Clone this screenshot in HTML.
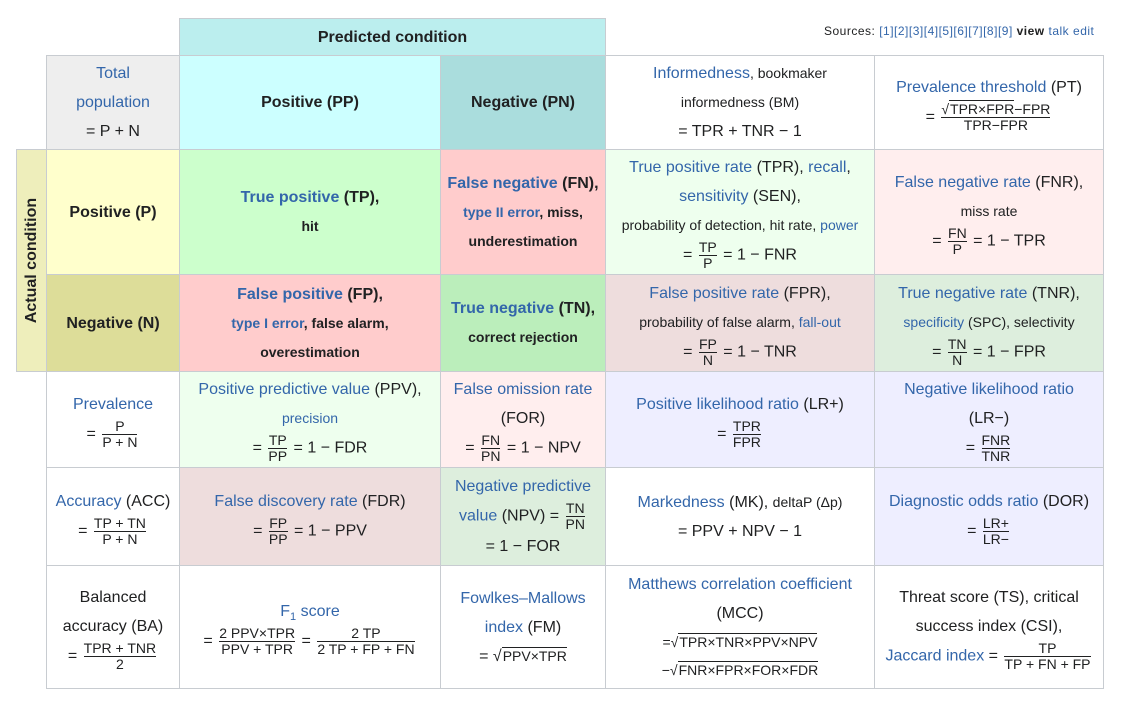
<!DOCTYPE html>
<html><head><meta charset="utf-8"><style>
body{margin:0;width:1124px;height:705px;background:#fff;font-family:"Liberation Sans",sans-serif;position:relative;overflow:hidden;color:#202122}
.c{position:absolute;box-sizing:border-box;border:1px solid #c8ccd1;display:flex;flex-direction:column;align-items:center;justify-content:center;text-align:center;font-size:16px;line-height:29px;padding:0 3px}
.b{font-weight:bold}
a{color:#3366aa;text-decoration:none}
.s{font-size:14px}
.f{display:inline-flex;flex-direction:column;vertical-align:middle;font-size:14px;line-height:15px;margin:0 2px}
.f span:first-child{border-bottom:1px solid #202122}
.sq{border-top:1px solid #202122;padding-left:1px}
.m{line-height:20px}
</style></head><body>
<div style="position:absolute;left:824px;top:24px;font-size:12px;letter-spacing:0.5px;">Sources: <a>[1][2][3][4][5][6][7][8][9]</a> <b>view</b> <a>talk</a> <a>edit</a></div>

<div class="c b" style="left:179px;top:18px;width:427px;height:38px;background:#bbeeee">Predicted condition</div>
<div class="c b" style="left:16px;top:149px;width:31px;height:223px;background:#eeeebb"><div style="transform:rotate(-90deg);white-space:nowrap">Actual condition</div></div>

<div class="c" style="left:46px;top:55px;width:134px;height:95px;background:#eeeeee"><a>Total<br>population</a><span>= P + N</span></div>
<div class="c b" style="left:179px;top:55px;width:262px;height:95px;background:#ccffff">Positive (PP)</div>
<div class="c b" style="left:440px;top:55px;width:166px;height:95px;background:#aadddd">Negative (PN)</div>
<div class="c" style="left:605px;top:55px;width:270px;height:95px;background:#fff"><div><a>Informedness</a><span class="s">, bookmaker</span></div><div class="s">informedness (BM)</div><div>= TPR + TNR − 1</div></div>
<div class="c" style="left:874px;top:55px;width:230px;height:95px;background:#fff"><a>Prevalence threshold <span style="color:#202122">(PT)</span></a><div class="m">= <span class="f"><span>√<span class="sq">TPR×FPR</span>−FPR</span><span>TPR−FPR</span></span></div></div>

<div class="c b" style="left:46px;top:149px;width:134px;height:126px;background:#ffffcc">Positive (P)</div>
<div class="c" style="left:179px;top:149px;width:262px;height:126px;background:#ccffcc"><div class="b"><a>True positive</a> (TP),</div><div class="b s">hit</div></div>
<div class="c" style="left:440px;top:149px;width:166px;height:126px;background:#ffcccc"><div class="b"><a>False negative</a> (FN),</div><div class="b s"><a>type II error</a>, miss,</div><div class="b s">underestimation</div></div>
<div class="c" style="left:605px;top:149px;width:270px;height:126px;background:#eeffee"><div><a>True positive rate</a> (TPR), <a>recall</a>,</div><div><a>sensitivity</a> (SEN),</div><div class="s">probability of detection, hit rate, <a>power</a></div><div class="m">= <span class="f"><span>TP</span><span>P</span></span> = 1 − FNR</div></div>
<div class="c" style="left:874px;top:149px;width:230px;height:126px;background:#ffeeee"><div><a>False negative rate</a> (FNR),</div><div class="s">miss rate</div><div class="m">= <span class="f"><span>FN</span><span>P</span></span> = 1 − TPR</div></div>

<div class="c b" style="left:46px;top:274px;width:134px;height:98px;background:#dddd99">Negative (N)</div>
<div class="c" style="left:179px;top:274px;width:262px;height:98px;background:#ffcccc"><div class="b"><a>False positive</a> (FP),</div><div class="b s"><a>type I error</a>, false alarm,</div><div class="b s">overestimation</div></div>
<div class="c" style="left:440px;top:274px;width:166px;height:98px;background:#bbeebb"><div class="b"><a>True negative</a> (TN),</div><div class="b s">correct rejection</div></div>
<div class="c" style="left:605px;top:274px;width:270px;height:98px;background:#eedddd"><div><a>False positive rate</a> (FPR),</div><div class="s">probability of false alarm, <a>fall-out</a></div><div class="m">= <span class="f"><span>FP</span><span>N</span></span> = 1 − TNR</div></div>
<div class="c" style="left:874px;top:274px;width:230px;height:98px;background:#ddeedd"><div><a>True negative rate</a> (TNR),</div><div class="s"><a>specificity</a> (SPC), selectivity</div><div class="m">= <span class="f"><span>TN</span><span>N</span></span> = 1 − FPR</div></div>

<div class="c" style="left:46px;top:371px;width:134px;height:97px;background:#fff"><a>Prevalence</a><div class="m">= <span class="f"><span>P</span><span>P + N</span></span></div></div>
<div class="c" style="left:179px;top:371px;width:262px;height:97px;background:#eeffee"><div><a>Positive predictive value</a> (PPV),</div><div class="s"><a>precision</a></div><div class="m">= <span class="f"><span>TP</span><span>PP</span></span> = 1 − FDR</div></div>
<div class="c" style="left:440px;top:371px;width:166px;height:97px;background:#ffeeee"><a>False omission rate</a><div>(FOR)</div><div class="m">= <span class="f"><span>FN</span><span>PN</span></span> = 1 − NPV</div></div>
<div class="c" style="left:605px;top:371px;width:270px;height:97px;background:#eeeeff"><div><a>Positive likelihood ratio</a> (LR+)</div><div class="m">= <span class="f"><span>TPR</span><span>FPR</span></span></div></div>
<div class="c" style="left:874px;top:371px;width:230px;height:97px;background:#eeeeff"><a>Negative likelihood ratio</a><div>(LR−)</div><div class="m">= <span class="f"><span>FNR</span><span>TNR</span></span></div></div>

<div class="c" style="left:46px;top:467px;width:134px;height:99px;background:#fff"><div><a>Accuracy</a> (ACC)</div><div class="m">= <span class="f"><span>TP + TN</span><span>P + N</span></span></div></div>
<div class="c" style="left:179px;top:467px;width:262px;height:99px;background:#eedddd"><div><a>False discovery rate</a> (FDR)</div><div class="m">= <span class="f"><span>FP</span><span>PP</span></span> = 1 − PPV</div></div>
<div class="c" style="left:440px;top:467px;width:166px;height:99px;background:#ddeedd"><a>Negative predictive</a><div><a>value</a> (NPV) = <span class="f"><span>TN</span><span>PN</span></span></div><div>= 1 − FOR</div></div>
<div class="c" style="left:605px;top:467px;width:270px;height:99px;background:#fff"><div><a>Markedness</a> (MK), <span class="s">deltaP (Δp)</span></div><div>= PPV + NPV − 1</div></div>
<div class="c" style="left:874px;top:467px;width:230px;height:99px;background:#eeeeff"><div><a>Diagnostic odds ratio</a> (DOR)</div><div class="m">= <span class="f"><span>LR+</span><span>LR−</span></span></div></div>

<div class="c" style="left:46px;top:565px;width:134px;height:124px;background:#fff"><div>Balanced</div><div>accuracy (BA)</div><div class="m">= <span class="f"><span>TPR + TNR</span><span>2</span></span></div></div>
<div class="c" style="left:179px;top:565px;width:262px;height:124px;background:#fff"><a>F<sub style="font-size:11px;line-height:0">1</sub> score</a><div class="m">= <span class="f"><span>2 PPV×TPR</span><span>PPV + TPR</span></span> = <span class="f"><span>2 TP</span><span>2 TP + FP + FN</span></span></div></div>
<div class="c" style="left:440px;top:565px;width:166px;height:124px;background:#fff"><a>Fowlkes–Mallows</a><div><a>index</a> (FM)</div><div>= √<span class="sq" style="font-size:14px;line-height:16px">PPV×TPR</span></div></div>
<div class="c" style="left:605px;top:565px;width:270px;height:124px;background:#fff"><a>Matthews correlation coefficient</a><div>(MCC)</div><div style="font-size:14px;line-height:28px">=√<span class="sq">TPR×TNR×PPV×NPV</span><br>−√<span class="sq">FNR×FPR×FOR×FDR</span></div></div>
<div class="c" style="left:874px;top:565px;width:230px;height:124px;background:#fff"><div>Threat score (TS), critical</div><div>success index (CSI),</div><div class="m"><a style="font-size:16px">Jaccard index</a> = <span class="f"><span>TP</span><span>TP + FN + FP</span></span></div></div>
</body></html>
